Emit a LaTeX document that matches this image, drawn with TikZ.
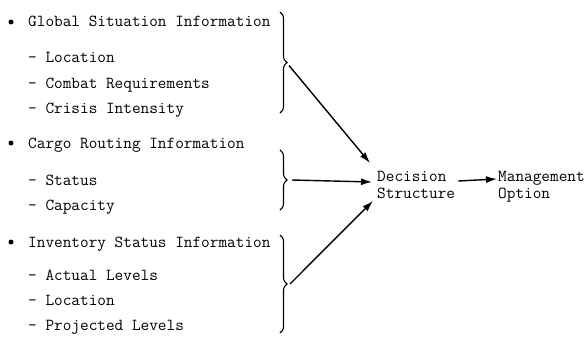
\documentclass[tikz,border=0pt]{standalone}
\usetikzlibrary{positioning,arrows.meta,decorations.pathreplacing,calc}

\begin{document}
\begin{tikzpicture}[x=1pt, y=-1pt, font=\ttfamily\fontsize{16.8}{17}\selectfont,
  item/.style={anchor=base west, inner sep=0pt},
  dot/.style={circle, fill, inner sep=0pt, minimum size=5pt},
  grp/.style={decorate, decoration={brace, amplitude=7pt}, line width=1.1pt},
  outbox/.style={align=left, anchor=north west, inner sep=0pt},
  arr/.style={line width=1.4pt, -{Latex[length=11pt,width=7pt]}}]
\useasboundingbox (0,0) rectangle (585,337);
% input groups
\node[dot] (b1) at (11,22) {};
\node[item] (glob) at (28,27) {Global Situation Information};
\node[item] (glob1) at (28,63) {- Location};
\node[item] (glob2) at (28,88) {- Combat Requirements};
\node[item] (glob3) at (28,113) {- Crisis Intensity};
\node[dot] (b2) at (11,143) {};
\node[item] (cargo) at (28,148) {Cargo Routing Information};
\node[item] (cargo1) at (28,185) {- Status};
\node[item] (cargo2) at (28,210) {- Capacity};
\node[dot] (b3) at (11,242) {};
\node[item] (inv) at (28,247) {Inventory Status Information};
\node[item] (inv1) at (28,280) {- Actual Levels};
\node[item] (inv2) at (28,305) {- Location};
\node[item] (inv3) at (28,330) {- Projected Levels};
% braces
\draw[grp] (280,12) -- coordinate[xshift=8pt] (tip1) (280,113);
\draw[grp] (280,150) -- coordinate[xshift=8pt] (tip2) (280,210);
\draw[grp] (280,235) -- coordinate[xshift=8pt] (tip3) (280,333);
% outputs
\node[outbox] (dec) at (377,171) {Decision\\Structure};
\node[outbox] (mgmt) at (498,171) {Management\\Option};
\draw[arr] ($(tip1)+(1,3)$) -- ($(dec.north west)+(-7,-8)$);
\draw[arr] ($(tip2)+(4,0)$) -- ($(dec.north west)+(-5,11)$);
\draw[arr] ($(tip3)+(2,0)$) -- ($(dec.south west)+(-4,2)$);
\draw[arr] ($(dec.north east)+(3,10)$) -- ($(mgmt.north west)+(-1,8)$);
\end{tikzpicture}
\end{document}
